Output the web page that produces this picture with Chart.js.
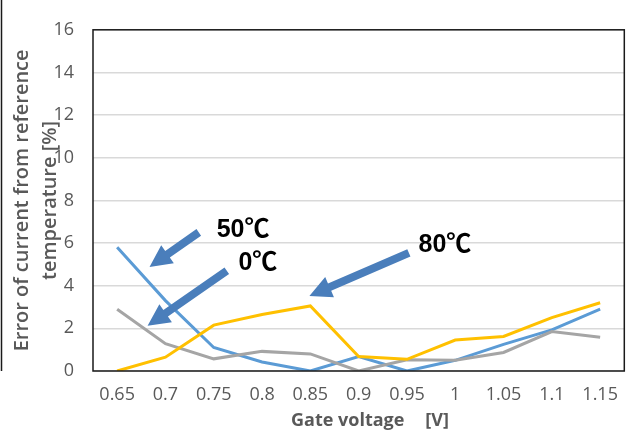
<!DOCTYPE html>
<html>
<head>
<meta charset="utf-8">
<script src="https://cdn.jsdelivr.net/npm/chart.js@4"></script>
<style>
  html, body { margin: 0; padding: 0; background: #fff; }
</style>
</head>
<body>
<canvas id="myChart" width="631" height="435"></canvas>
<script>
// data
var voltages = ['0.65', '0.7', '0.75', '0.8', '0.85', '0.9', '0.95', '1', '1.05', '1.1', '1.15'];
var err50 = [5.8, 3.3, 1.1, 0.42, 0, 0.68, 0, 0.5, 1.25, 1.93, 2.9];
var err80 = [0, 0.65, 2.15, 2.65, 3.05, 0.68, 0.55, 1.45, 1.62, 2.5, 3.2];
var err0 = [2.9, 1.28, 0.57, 0.92, 0.8, 0, 0.53, 0.5, 0.87, 1.85, 1.58];
var yTicks = [0, 2, 4, 6, 8, 10, 12, 14, 16];

// callouts: temperature text + arrow (tail -> tip), in category index / value units
var callouts = [
    { text: '50', at: [2.06, 6.7], tail: [1.69, 6.5], tip: [0.67, 4.88] },
    { text: '0', at: [2.51, 5.15], tail: [2.27, 4.7], tip: [0.63, 2.12] },
    { text: '80', at: [6.24, 6.0], tail: [6.04, 5.54], tip: [3.98, 3.52] }
];

var gray = '#595959';

// plot frame + callouts
var decor = {
    id: 'decor',
    afterDatasetsDraw: function (chart) {
        var c = chart.ctx, a = chart.chartArea;
        var xs = chart.scales.x, ys = chart.scales.y;
        c.save();
        c.strokeStyle = '#1a1a1a';
        c.lineWidth = 1.5;
        c.strokeRect(a.left, a.top, a.right - a.left, a.bottom - a.top);
        // left edge of the figure box
        c.beginPath();
        c.moveTo(1.5, 0);
        c.lineTo(1.5, a.bottom);
        c.stroke();

        callouts.forEach(function (o) {
            var x0 = xs.getPixelForValue(o.tail[0]), y0 = ys.getPixelForValue(o.tail[1]);
            var x1 = xs.getPixelForValue(o.tip[0]), y1 = ys.getPixelForValue(o.tip[1]);
            var dx = x1 - x0, dy = y1 - y0, len = Math.sqrt(dx * dx + dy * dy);
            var ux = dx / len, uy = dy / len, nx = -uy, ny = ux;
            var head = 22, sw = 4, hw = 11;
            var bx = x1 - ux * head, by = y1 - uy * head;
            c.fillStyle = '#4A7EBB';
            c.beginPath();
            c.moveTo(x0 + nx * sw, y0 + ny * sw);
            c.lineTo(bx + nx * sw, by + ny * sw);
            c.lineTo(bx + nx * hw, by + ny * hw);
            c.lineTo(x1, y1);
            c.lineTo(bx - nx * hw, by - ny * hw);
            c.lineTo(bx - nx * sw, by - ny * sw);
            c.lineTo(x0 - nx * sw, y0 - ny * sw);
            c.closePath();
            c.fill();

            // number in Arial-like bold, degree sign from the CJK font
            var tx = xs.getPixelForValue(o.at[0]), ty = ys.getPixelForValue(o.at[1]);
            c.fillStyle = '#000';
            c.textAlign = 'left';
            c.textBaseline = 'alphabetic';
            c.font = 'bold 25px "Liberation Sans", Arial, sans-serif';
            c.fillText(o.text, tx, ty + 9);
            var w = c.measureText(o.text).width;
            c.font = 'bold 25px "Noto Sans CJK JP", sans-serif';
            c.fillText('℃', tx + w, ty + 9);
        });
        c.restore();
    }
};

var ctx = document.getElementById('myChart').getContext('2d');

var myChart = new Chart(ctx, {
    type: 'line',
    data: {
        labels: voltages,
        datasets: [
            { label: '80℃', data: err80, borderColor: '#FFC000' },
            { label: '0℃', data: err0, borderColor: '#A5A5A5' },
            { label: '50℃', data: err50, borderColor: '#5B9BD5' }
        ]
    },
    options: {
        responsive: false,
        animation: false,
        layout: { padding: { top: 17, right: 1, left: 0, bottom: 0 } },
        elements: {
            line: { borderWidth: 3, tension: 0, fill: false, borderCapStyle: 'butt', borderJoinStyle: 'miter' },
            point: { radius: 0, hoverRadius: 0 }
        },
        plugins: {
            legend: { display: false },
            tooltip: { enabled: false }
        },
        scales: {
            x: {
                offset: true,
                grid: { display: false, drawTicks: false },
                border: { display: false },
                ticks: {
                    color: gray,
                    padding: 13,
                    maxRotation: 0,
                    autoSkip: false,
                    font: { family: '"Open Sans"', size: 18 }
                },
                title: {
                    display: true,
                    text: '\u3000 Gate voltage\u3000\u2009[V]',
                    color: gray,
                    padding: { top: 0, bottom: 3 },
                    font: { family: '"Open Sans"', size: 18, weight: 'bold' }
                },
                afterFit: function (s) { s.height = 64; }
            },
            y: {
                min: 0,
                max: 16,
                afterBuildTicks: function (s) {
                    s.ticks = yTicks.map(function (v) { return { value: v }; });
                },
                grid: { color: '#d9d9d9', lineWidth: 1.5, drawTicks: false },
                border: { display: false },
                ticks: {
                    color: gray,
                    padding: 19,
                    font: { family: '"Open Sans"', size: 18 }
                },
                title: {
                    display: true,
                    text: ['Error of current from reference', 'temperature [%]'],
                    color: gray,
                    padding: { top: 8, bottom: 0 },
                    font: { family: '"Open Sans"', size: 20, weight: '600', lineHeight: 1.4 }
                },
                afterFit: function (s) { s.width = 93; }
            }
        }
    },
    plugins: [decor]
});
</script>
</body>
</html>
